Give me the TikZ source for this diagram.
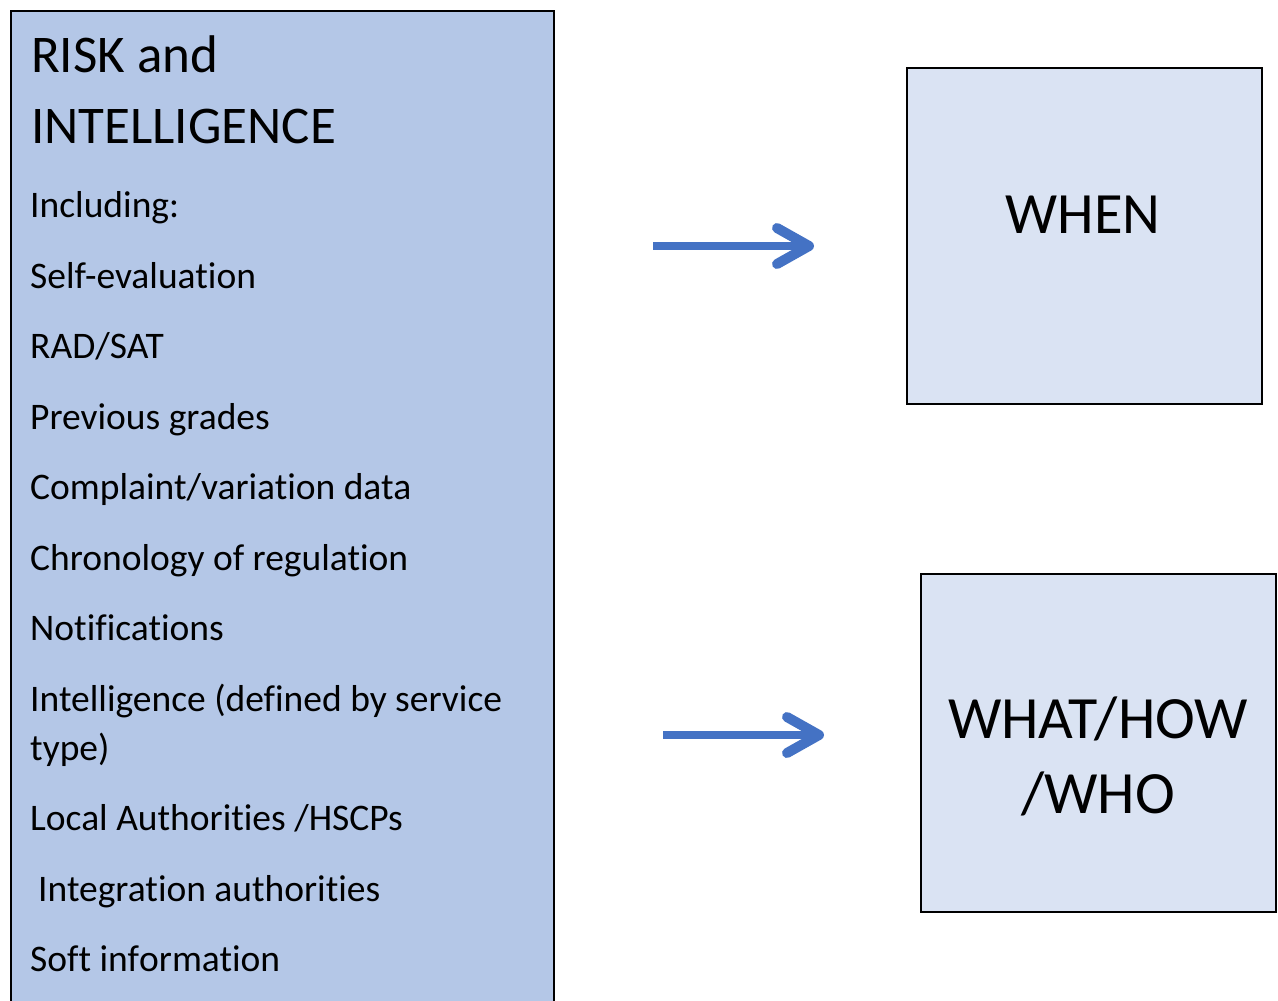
\documentclass[tikz,border=0pt]{standalone}
\usepackage{fontspec}
\setmainfont{Carlito}[Ligatures=NoCommon]
\usetikzlibrary{arrows.meta}
\definecolor{riskfill}{HTML}{B4C7E7}
\definecolor{panelfill}{HTML}{DAE3F3}
\definecolor{arrowblue}{HTML}{4472C4}
% splits a letter pair so that it is set as two separate glyphs
\newcommand\sep{\kern0pt}
\tikzset{
  panel/.style={draw=black, line width=2pt, inner sep=0pt, anchor=north west},
  titletext/.style={inner sep=0pt, anchor=base west, font=\fontsize{53}{64}\selectfont},
  itemtext/.style={inner sep=0pt, anchor=base west, font=\fontsize{37.5}{45}\selectfont},
  bigtext/.style={inner sep=0pt, anchor=base, font=\fontsize{58.5}{70}\selectfont},
  flow/.style={draw=arrowblue, line width=8.5pt,
    -{Straight Barb[round, length=32pt, width=36pt, line width=10pt]}}
}
\begin{document}
\begin{tikzpicture}[x=1pt, y=-1pt]
\clip (0,0) rectangle (1278,1001);
\fill[white] (0,0) rectangle (1278,1001);

% left panel with the list of sources
\node[panel, fill=riskfill, minimum width=543pt, minimum height=1010pt] (risk) at (10,10) {};
\node[titletext] (t1) at (31,72) {RISK and};
\node[titletext] (t2) at (31,143) {INTELLIGENCE};
\node[itemtext] (i1) at (30,217) {Including:};
\node[itemtext] (i2) at (30,288) {Self-evaluat\sep ion};
\node[itemtext] (i3) at (30,358) {RAD/SAT};
\node[itemtext] (i4) at (30,429) {Previous grades};
\node[itemtext] (i5) at (30,499) {Complaint/variat\sep ion data};
\node[itemtext] (i6) at (30,570) {Chronology of regulat\sep ion};
\node[itemtext] (i7) at (30,640) {Not\sep if\sep icat\sep ions};
\node[itemtext] (i8) at (30,711) {Intelligence (def\sep ined by service};
\node[itemtext] (i8b) at (30,760) {type)};
\node[itemtext] (i9) at (30,830) {Local Authorit\sep ies /HSCPs};
\node[itemtext] (i10) at (38,901) {Integrat\sep ion authorit\sep ies};
\node[itemtext] (i11) at (30,971) {Sof\sep t inf\sep ormat\sep ion};

% right panels
\node[panel, fill=panelfill, minimum width=355pt, minimum height=336pt] (when) at (906,67) {};
\node[bigtext] (whenlbl) at (1083,233) {WHEN};
\node[panel, fill=panelfill, minimum width=355pt, minimum height=338pt] (what) at (920,573) {};
\node[bigtext, font=\fontsize{60}{72}\selectfont] (whatlbl1) at (1098,738) {WHAT/HOW};
\node[bigtext, font=\fontsize{60}{72}\selectfont] (whatlbl2) at (1098,813) {/WHO};

% arrows
\coordinate (s1) at (653,246);
\coordinate (e1) at (814,246);
\coordinate (s2) at (663,735);
\coordinate (e2) at (824,735);
\draw[flow] (s1) -- (e1);
\draw[flow] (s2) -- (e2);
\end{tikzpicture}
\end{document}
